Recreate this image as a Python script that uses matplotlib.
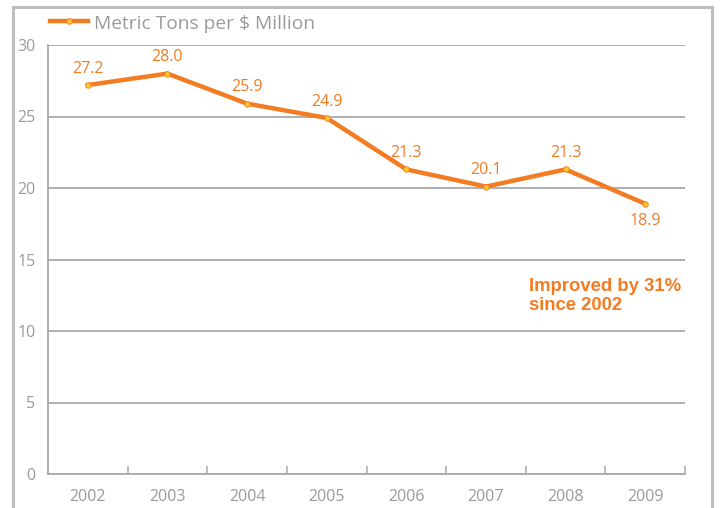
import matplotlib
matplotlib.use("Agg")
import matplotlib.pyplot as plt
from matplotlib.patches import Rectangle

years = ["2002", "2003", "2004", "2005", "2006", "2007", "2008", "2009"]
values = [27.2, 28.0, 25.9, 24.9, 21.3, 20.1, 21.3, 18.9]
labels = ["27.2", "28.0", "25.9", "24.9", "21.3", "20.1", "21.3", "18.9"]
yticks = [0, 5, 10, 15, 20, 25, 30]
series_name = "Metric Tons per $ Million"
note = "Improved by 31%\nsince 2002"

ORANGE = "#F37B22"
GREY = "#9a9a9a"
GRID = "#a7a9ac"

plt.rcParams['font.family'] = ['Open Sans', 'DejaVu Sans']

fig = plt.figure(figsize=(7.2, 5.08), dpi=100)
ax = fig.add_axes([48/720, 1-474/508, (685-48)/720, (474-45)/508])

x = list(range(len(years)))
ax.plot(x, values, color=ORANGE, lw=3.2, solid_joinstyle='miter', zorder=3,
        marker='o', markersize=4, markerfacecolor="#FFC830", markeredgecolor=ORANGE,
        markeredgewidth=0.6)

for i, (v, lab) in enumerate(zip(values, labels)):
    if i == len(values) - 1:
        ax.annotate(lab, (i, v), xytext=(0, -7), textcoords='offset points',
                    ha='center', va='top', color=ORANGE, fontsize=11.5)
    else:
        ax.annotate(lab, (i, v), xytext=(0, 6), textcoords='offset points',
                    ha='center', va='bottom', color=ORANGE, fontsize=11.5)

ax.set_xlim(-0.5, 7.5)
ax.set_ylim(0, 30)
ax.set_yticks(yticks)
ax.set_yticklabels([str(t) for t in yticks])
ax.yaxis.grid(True, color=GRID, lw=1.3)
ax.set_axisbelow(True)
ax.tick_params(axis='y', length=0, pad=9, labelcolor=GREY, labelsize=11.5)

ax.set_xticks(x)
ax.set_xticklabels(years)
ax.tick_params(axis='x', which='major', length=0, pad=11, labelcolor=GREY, labelsize=11.5)
ax.set_xticks([i + 0.5 for i in x], minor=True)
ax.tick_params(axis='x', which='minor', direction='in', length=6, width=1.1, color=GRID)

for s in ['top', 'right']:
    ax.spines[s].set_visible(False)
ax.spines['left'].set_color(GRID)
ax.spines['left'].set_linewidth(1.3)
ax.spines['bottom'].set_color(GRID)
ax.spines['bottom'].set_linewidth(1.3)

ax.text(529/720, 1-296/508, note, transform=fig.transFigure, color=ORANGE,
        fontsize=13.3, fontweight='bold', family=['Liberation Sans', 'DejaVu Sans'],
        ha='left', va='center', linespacing=1.2)

# legend
fig.lines.append(plt.Line2D([50/720, 88/720], [1-21/508, 1-21/508], transform=fig.transFigure,
                            color=ORANGE, lw=3.2))
fig.lines.append(plt.Line2D([69/720], [1-21/508], transform=fig.transFigure, marker='o',
                            markersize=4, markerfacecolor="#FFC830", markeredgecolor=ORANGE,
                            markeredgewidth=0.6, lw=0))
fig.text(94/720, 1-24/508, series_name, color=GREY, fontsize=13.8, ha='left', va='center')

# outer frame
fig.patches.append(Rectangle((13/720, -0.1), (712-13)/720, 1.1 - 7/508, transform=fig.transFigure,
                             fill=False, edgecolor="#bcbec0", lw=2.2))

fig.savefig("out.png", dpi=100)
